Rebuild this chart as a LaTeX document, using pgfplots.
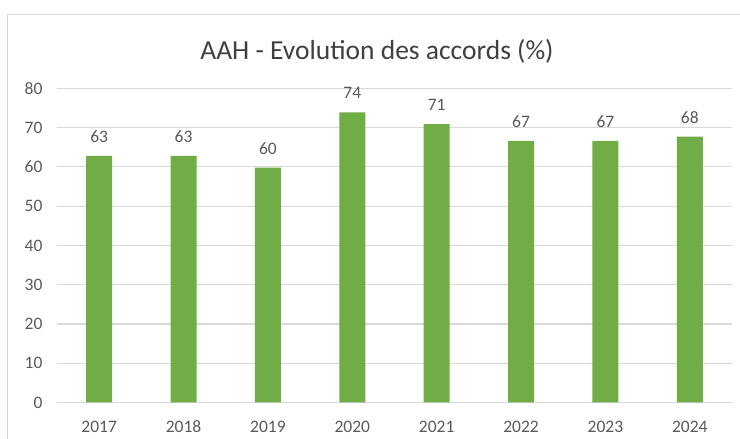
\documentclass[border=0pt]{standalone}
\usepackage{pgfplots}
\pgfplotsset{compat=1.18}
\usepackage{fontspec}
\setmainfont{Carlito}
\definecolor{bargreen}{HTML}{70AD47}
\definecolor{txtgray}{HTML}{595959}
\definecolor{titlegray}{HTML}{404040}
\definecolor{gridgray}{HTML}{D9D9D9}
\begin{document}
\begin{tikzpicture}[x=1pt,y=1pt]
\useasboundingbox (0,0) rectangle (740,439);
\clip (0,0) rectangle (740,439);
\draw[gridgray, line width=1.2pt] (7.8,-5) -- (7.8,424.5) -- (760,424.5);
\node[anchor=base, text=titlegray, inner sep=0pt, font=\fontsize{27.5}{32}\selectfont] at (377,379.7) {AAH - Evolution des accords (\%)};
\begin{axis}[
 at={(57pt,36.5pt)}, anchor=south west,
 width=675pt, height=314.2pt, scale only axis,
 xmin=-0.5, xmax=7.5, ymin=0, ymax=80,
 ytick={0,10,...,80},
 xtick={0,...,7},
 xticklabels={2017,2018,2019,2020,2021,2022,2023,2024},
 axis line style={draw=none},
 major tick length=0pt,
 ymajorgrids, grid style={gridgray, line width=1.2pt},
 ticklabel style={text=txtgray, font=\fontsize{17.5}{21}\selectfont},
 /pgf/number format/assume math mode=true,
 yticklabel style={xshift=-11pt},
 xticklabel style={anchor=base, yshift=-30.2pt},
 ybar, bar width=26pt,
 nodes near coords,
 nodes near coords style={text=txtgray, font=\fontsize{17.5}{21}\selectfont, anchor=base, yshift=13.3pt, /pgf/number format/fixed, /pgf/number format/precision=0, /pgf/number format/assume math mode=true},
 clip=false,
]
\addplot[fill=bargreen, draw=none] coordinates {(0,62.8) (1,62.8) (2,59.8) (3,73.9) (4,70.9) (5,66.6) (6,66.6) (7,67.7)};
\end{axis}
\end{tikzpicture}
\end{document}
